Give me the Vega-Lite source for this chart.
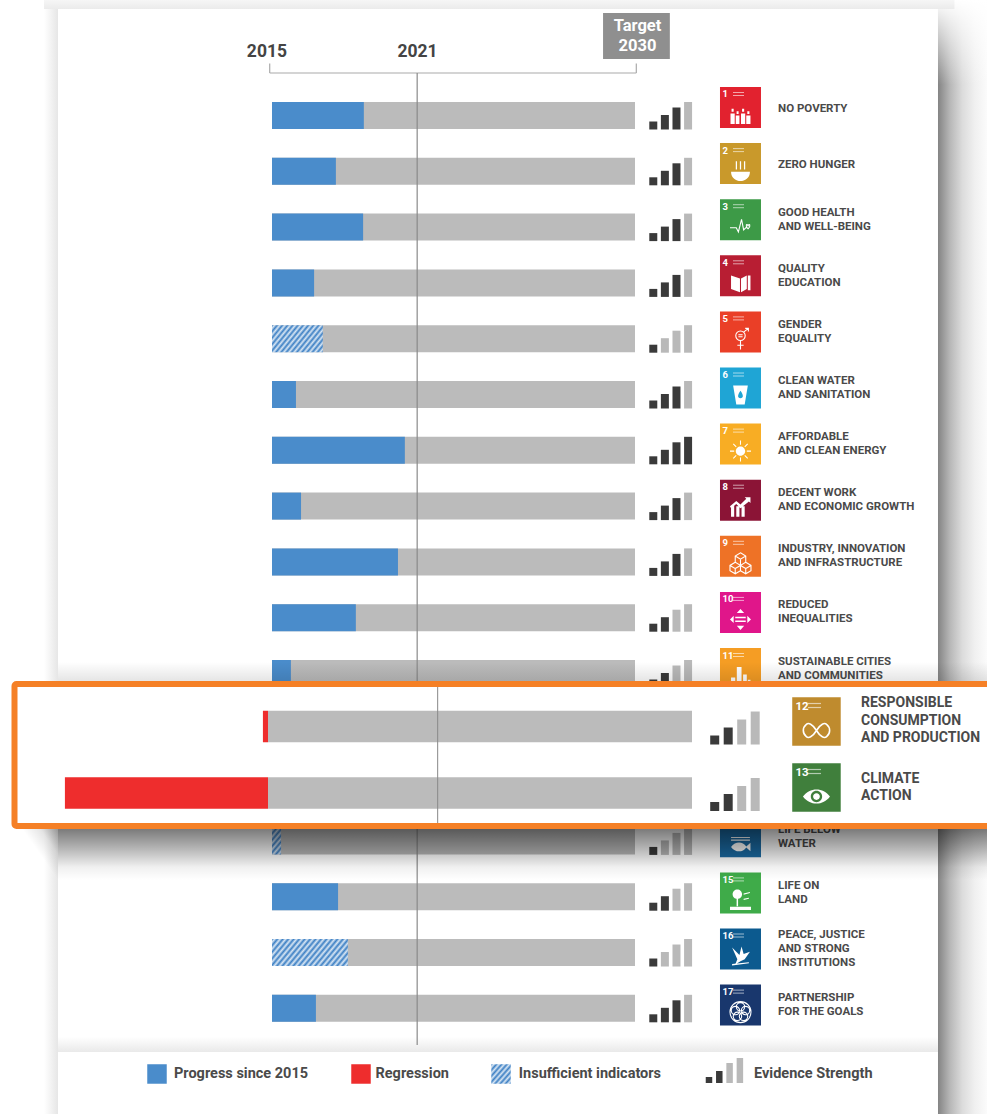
{
"$schema":"https://vega.github.io/schema/vega-lite/v6.json",
"width":987,"height":1114,"padding":0,"autosize":{"type":"none"},"background":"#ffffff",
"config":{"view":{"stroke":null},"axis":{"disable":true},"legend":{"disable":true}},
"resolve":{"scale":{"x":"independent","y":"independent","color":"independent"}},
"data":{"values":[{"part":"frame"}]},
"datasets":{
"goals":[
{"goal":1,"label":"NO POVERTY","progress":25.3,"status":"progress"},
{"goal":2,"label":"ZERO HUNGER","progress":17.6,"status":"progress"},
{"goal":3,"label":"GOOD HEALTH\nAND WELL-BEING","progress":25.1,"status":"progress"},
{"goal":4,"label":"QUALITY\nEDUCATION","progress":11.6,"status":"progress"},
{"goal":5,"label":"GENDER\nEQUALITY","progress":14,"status":"insufficient"},
{"goal":6,"label":"CLEAN WATER\nAND SANITATION","progress":6.6,"status":"progress"},
{"goal":7,"label":"AFFORDABLE\nAND CLEAN ENERGY","progress":36.6,"status":"progress"},
{"goal":8,"label":"DECENT WORK\nAND ECONOMIC GROWTH","progress":8,"status":"progress"},
{"goal":9,"label":"INDUSTRY, INNOVATION\nAND INFRASTRUCTURE","progress":34.7,"status":"progress"},
{"goal":10,"label":"REDUCED\nINEQUALITIES","progress":23.1,"status":"progress"},
{"goal":11,"label":"SUSTAINABLE CITIES\nAND COMMUNITIES","progress":5.2,"status":"progress"},
{"goal":12,"label":"RESPONSIBLE\nCONSUMPTION\nAND PRODUCTION","progress":-1.2,"status":"regression"},
{"goal":13,"label":"CLIMATE\nACTION","progress":-47.9,"status":"regression"},
{"goal":14,"label":"LIFE BELOW\nWATER","progress":2.5,"status":"insufficient"},
{"goal":15,"label":"LIFE ON\nLAND","progress":18.2,"status":"progress"},
{"goal":16,"label":"PEACE, JUSTICE\nAND STRONG\nINSTITUTIONS","progress":20.9,"status":"insufficient"},
{"goal":17,"label":"PARTNERSHIP\nFOR THE GOALS","progress":12.1,"status":"progress"}
],
"evidence":[
{"goal":1,"level":1,"state":"on"},{"goal":1,"level":2,"state":"on"},{"goal":1,"level":3,"state":"on"},{"goal":1,"level":4,"state":"off"},
{"goal":2,"level":1,"state":"on"},{"goal":2,"level":2,"state":"on"},{"goal":2,"level":3,"state":"on"},{"goal":2,"level":4,"state":"off"},
{"goal":3,"level":1,"state":"on"},{"goal":3,"level":2,"state":"on"},{"goal":3,"level":3,"state":"on"},{"goal":3,"level":4,"state":"off"},
{"goal":4,"level":1,"state":"on"},{"goal":4,"level":2,"state":"on"},{"goal":4,"level":3,"state":"on"},{"goal":4,"level":4,"state":"off"},
{"goal":5,"level":1,"state":"on"},{"goal":5,"level":2,"state":"off"},{"goal":5,"level":3,"state":"off"},{"goal":5,"level":4,"state":"off"},
{"goal":6,"level":1,"state":"on"},{"goal":6,"level":2,"state":"on"},{"goal":6,"level":3,"state":"on"},{"goal":6,"level":4,"state":"off"},
{"goal":7,"level":1,"state":"on"},{"goal":7,"level":2,"state":"on"},{"goal":7,"level":3,"state":"on"},{"goal":7,"level":4,"state":"on"},
{"goal":8,"level":1,"state":"on"},{"goal":8,"level":2,"state":"on"},{"goal":8,"level":3,"state":"on"},{"goal":8,"level":4,"state":"off"},
{"goal":9,"level":1,"state":"on"},{"goal":9,"level":2,"state":"on"},{"goal":9,"level":3,"state":"on"},{"goal":9,"level":4,"state":"off"},
{"goal":10,"level":1,"state":"on"},{"goal":10,"level":2,"state":"on"},{"goal":10,"level":3,"state":"off"},{"goal":10,"level":4,"state":"off"},
{"goal":11,"level":1,"state":"on"},{"goal":11,"level":2,"state":"on"},{"goal":11,"level":3,"state":"off"},{"goal":11,"level":4,"state":"off"},
{"goal":12,"level":1,"state":"on"},{"goal":12,"level":2,"state":"on"},{"goal":12,"level":3,"state":"off"},{"goal":12,"level":4,"state":"off"},
{"goal":13,"level":1,"state":"on"},{"goal":13,"level":2,"state":"on"},{"goal":13,"level":3,"state":"off"},{"goal":13,"level":4,"state":"off"},
{"goal":14,"level":1,"state":"on"},{"goal":14,"level":2,"state":"off"},{"goal":14,"level":3,"state":"off"},{"goal":14,"level":4,"state":"off"},
{"goal":15,"level":1,"state":"on"},{"goal":15,"level":2,"state":"on"},{"goal":15,"level":3,"state":"off"},{"goal":15,"level":4,"state":"off"},
{"goal":16,"level":1,"state":"on"},{"goal":16,"level":2,"state":"off"},{"goal":16,"level":3,"state":"off"},{"goal":16,"level":4,"state":"off"},
{"goal":17,"level":1,"state":"on"},{"goal":17,"level":2,"state":"on"},{"goal":17,"level":3,"state":"on"},{"goal":17,"level":4,"state":"off"}
],
"legendBars":[{"level":1,"state":"on"},{"level":2,"state":"on"},{"level":3,"state":"off"},{"level":4,"state":"off"}],
"header":[{"year":"2015","at":-1.4},{"year":"2021","at":40.1}]
},
"layer":[
{"layer":[
{"mark":{"type":"rect","color":{"gradient":"linear","x1":0,"y1":0,"x2":1,"y2":0,"stops":[{"offset":0,"color":"#848484"},{"offset":0.25,"color":"#b8b8b8"},{"offset":0.5,"color":"#dcdcdc"},{"offset":0.75,"color":"#f0f0f0"},{"offset":1,"color":"#fbfbfb"}]}},
 "encoding":{"x":{"datum":183.47,"type":"quantitative","scale":{"domain":[-74.93,196.97],"nice":false,"zero":false}},"x2":{"datum":196.97},"y":{"datum":-1.0699,"type":"quantitative","scale":{"domain":[-1.0699,18.894],"reverse":true,"nice":false,"zero":false,"padding":0}},"y2":{"datum":18.894}}},
{"mark":{"type":"rect","color":{"gradient":"linear","x1":0,"y1":0,"x2":0,"y2":1,"stops":[{"offset":0,"color":"rgba(255,255,255,1)"},{"offset":0.15,"color":"rgba(255,255,255,0.85)"},{"offset":1,"color":"rgba(255,255,255,0)"}]}},
 "encoding":{"x":{"datum":183.47,"type":"quantitative"},"x2":{"datum":196.97},"y":{"datum":-1.0699,"type":"quantitative"},"y2":{"datum":0.45}}},
{"mark":{"type":"rect","color":{"gradient":"linear","x1":0,"y1":0,"x2":0,"y2":1,"stops":[{"offset":0,"color":"#f6f6f6"},{"offset":1,"color":"#ebebeb"}]}},
 "encoding":{"x":{"datum":-62.8,"type":"quantitative"},"x2":{"datum":188},"y":{"datum":-1.0699,"type":"quantitative"},"y2":{"datum":-0.9086}}},
{"mark":{"type":"rect","color":{"gradient":"linear","x1":0,"y1":0,"x2":1,"y2":0,"stops":[{"offset":0,"color":"#ffffff"},{"offset":1,"color":"#e6e6e6"}]}},
 "encoding":{"x":{"datum":-62.8,"type":"quantitative"},"x2":{"datum":-58.95},"y":{"datum":-0.9086,"type":"quantitative"},"y2":{"datum":18.894}}},
{"mark":{"type":"rect","color":{"gradient":"linear","x1":0,"y1":0,"x2":0,"y2":1,"stops":[{"offset":0,"color":"#ffffff"},{"offset":1,"color":"#e9e9e9"}]}},
 "encoding":{"x":{"datum":-58.95,"type":"quantitative"},"x2":{"datum":183.47},"y":{"datum":17.514,"type":"quantitative"},"y2":{"datum":17.783}}},
{"mark":{"type":"rect","color":"#8f8f8f"},
 "encoding":{"x":{"datum":91.2,"type":"quantitative"},"x2":{"datum":109.6},"y":{"datum":-0.837,"type":"quantitative"},"y2":{"datum":-0.0125}}},
{"mark":{"type":"text","text":"Target\n2030","lineBreak":"\n","lineHeight":20,"align":"center","baseline":"middle","color":"#ffffff","font":"Roboto","fontWeight":"bold","fontSize":16.5},
 "encoding":{"x":{"datum":100.7,"type":"quantitative"},"y":{"datum":-0.604,"type":"quantitative"}}},
{"data":{"name":"header"},"mark":{"type":"text","align":"center","baseline":"middle","color":"#444444","font":"Roboto","fontWeight":"bold","fontSize":17.5},
 "encoding":{"x":{"field":"at","type":"quantitative"},"y":{"datum":-0.138,"type":"quantitative"},"text":{"field":"year"}}},
{"mark":{"type":"rule","color":"#aaaaaa","strokeWidth":1.2},"encoding":{"x":{"datum":-0.63,"type":"quantitative"},"x2":{"datum":100.36},"y":{"datum":0.238,"type":"quantitative"}}},
{"mark":{"type":"rule","color":"#aaaaaa","strokeWidth":1.2},"encoding":{"x":{"datum":-0.63,"type":"quantitative"},"y":{"datum":0.068,"type":"quantitative"},"y2":{"datum":0.238}}},
{"mark":{"type":"rule","color":"#aaaaaa","strokeWidth":1.2},"encoding":{"x":{"datum":100.36,"type":"quantitative"},"y":{"datum":0.068,"type":"quantitative"},"y2":{"datum":0.238}}},
{"data":{"name":"goals"},"mark":{"type":"bar","orient":"horizontal","size":27,"color":"#bbbbbb"},
 "encoding":{"x":{"datum":0,"type":"quantitative"},"x2":{"datum":100},"y":{"field":"goal","type":"quantitative"}}},
{"data":{"name":"goals"},"transform":[{"filter":"datum.status !== 'insufficient'"}],"mark":{"type":"bar","orient":"horizontal","size":27},
 "encoding":{"x":{"field":"progress","type":"quantitative"},"x2":{"datum":0},"y":{"field":"goal","type":"quantitative"},"color":{"field":"status","type":"nominal","scale":{"domain":["progress","regression"],"range":["#4a8ccb","#ee2d2d"]}}}},
{"data":{"name":"goals"},"transform":[{"filter":"datum.goal === 5"}],"mark":{"type":"bar","orient":"horizontal","size":27,"color":{"gradient":"linear","x1":0,"y1":0,"x2":1.207,"y2":0.522,"stops":[{"offset":0,"color":"#3d80c4"},{"offset":0.0357,"color":"#d8e6f4"},{"offset":0.0714,"color":"#3d80c4"},{"offset":0.1071,"color":"#d8e6f4"},{"offset":0.1429,"color":"#3d80c4"},{"offset":0.1786,"color":"#d8e6f4"},{"offset":0.2143,"color":"#3d80c4"},{"offset":0.25,"color":"#d8e6f4"},{"offset":0.2857,"color":"#3d80c4"},{"offset":0.3214,"color":"#d8e6f4"},{"offset":0.3571,"color":"#3d80c4"},{"offset":0.3929,"color":"#d8e6f4"},{"offset":0.4286,"color":"#3d80c4"},{"offset":0.4643,"color":"#d8e6f4"},{"offset":0.5,"color":"#3d80c4"},{"offset":0.5357,"color":"#d8e6f4"},{"offset":0.5714,"color":"#3d80c4"},{"offset":0.6071,"color":"#d8e6f4"},{"offset":0.6429,"color":"#3d80c4"},{"offset":0.6786,"color":"#d8e6f4"},{"offset":0.7143,"color":"#3d80c4"},{"offset":0.75,"color":"#d8e6f4"},{"offset":0.7857,"color":"#3d80c4"},{"offset":0.8214,"color":"#d8e6f4"},{"offset":0.8571,"color":"#3d80c4"},{"offset":0.8929,"color":"#d8e6f4"},{"offset":0.9286,"color":"#3d80c4"},{"offset":0.9643,"color":"#d8e6f4"},{"offset":1,"color":"#3d80c4"}]}},
 "encoding":{"x":{"field":"progress","type":"quantitative"},"x2":{"datum":0},"y":{"field":"goal","type":"quantitative"}}},
{"data":{"name":"goals"},"transform":[{"filter":"datum.goal === 16"}],"mark":{"type":"bar","orient":"horizontal","size":27,"color":{"gradient":"linear","x1":0,"y1":0,"x2":1.192,"y2":0.3527,"stops":[{"offset":0,"color":"#3d80c4"},{"offset":0.0278,"color":"#d8e6f4"},{"offset":0.0556,"color":"#3d80c4"},{"offset":0.0833,"color":"#d8e6f4"},{"offset":0.1111,"color":"#3d80c4"},{"offset":0.1389,"color":"#d8e6f4"},{"offset":0.1667,"color":"#3d80c4"},{"offset":0.1944,"color":"#d8e6f4"},{"offset":0.2222,"color":"#3d80c4"},{"offset":0.25,"color":"#d8e6f4"},{"offset":0.2778,"color":"#3d80c4"},{"offset":0.3056,"color":"#d8e6f4"},{"offset":0.3333,"color":"#3d80c4"},{"offset":0.3611,"color":"#d8e6f4"},{"offset":0.3889,"color":"#3d80c4"},{"offset":0.4167,"color":"#d8e6f4"},{"offset":0.4444,"color":"#3d80c4"},{"offset":0.4722,"color":"#d8e6f4"},{"offset":0.5,"color":"#3d80c4"},{"offset":0.5278,"color":"#d8e6f4"},{"offset":0.5556,"color":"#3d80c4"},{"offset":0.5833,"color":"#d8e6f4"},{"offset":0.6111,"color":"#3d80c4"},{"offset":0.6389,"color":"#d8e6f4"},{"offset":0.6667,"color":"#3d80c4"},{"offset":0.6944,"color":"#d8e6f4"},{"offset":0.7222,"color":"#3d80c4"},{"offset":0.75,"color":"#d8e6f4"},{"offset":0.7778,"color":"#3d80c4"},{"offset":0.8056,"color":"#d8e6f4"},{"offset":0.8333,"color":"#3d80c4"},{"offset":0.8611,"color":"#d8e6f4"},{"offset":0.8889,"color":"#3d80c4"},{"offset":0.9167,"color":"#d8e6f4"},{"offset":0.9444,"color":"#3d80c4"},{"offset":0.9722,"color":"#d8e6f4"},{"offset":1,"color":"#3d80c4"}]}},
 "encoding":{"x":{"field":"progress","type":"quantitative"},"x2":{"datum":0},"y":{"field":"goal","type":"quantitative"}}},
{"data":{"name":"goals"},"transform":[{"filter":"datum.goal === 14"}],"mark":{"type":"bar","orient":"horizontal","size":27,"color":{"gradient":"linear","x1":0,"y1":0,"x2":0.483,"y2":1.207,"stops":[{"offset":0,"color":"#3d80c4"},{"offset":0.0833,"color":"#d8e6f4"},{"offset":0.1667,"color":"#3d80c4"},{"offset":0.25,"color":"#d8e6f4"},{"offset":0.3333,"color":"#3d80c4"},{"offset":0.4167,"color":"#d8e6f4"},{"offset":0.5,"color":"#3d80c4"},{"offset":0.5833,"color":"#d8e6f4"},{"offset":0.6667,"color":"#3d80c4"},{"offset":0.75,"color":"#d8e6f4"},{"offset":0.8333,"color":"#3d80c4"},{"offset":0.9167,"color":"#d8e6f4"},{"offset":1,"color":"#3d80c4"}]}},
 "encoding":{"x":{"field":"progress","type":"quantitative"},"x2":{"datum":0},"y":{"field":"goal","type":"quantitative"}}},
{"mark":{"type":"rule","color":"#8a8a8a","strokeWidth":1.4,"opacity":0.85},"encoding":{"x":{"datum":40,"type":"quantitative"},"y":{"datum":0.238,"type":"quantitative"},"y2":{"datum":17.658}}}
]},
{"data":{"name":"evidence"},"encoding":{
 "color":{"field":"state","type":"nominal","scale":{"domain":["on","off"],"range":["#3a3a3a","#b9b9b9"]}}},
"layer":[
{"transform":[{"filter":"datum.level === 1"}],"mark":{"type":"tick","orient":"vertical","thickness":8,"opacity":1,"size":8,"yOffset":10},
 "encoding":{"x":{"field":"level","type":"quantitative","scale":{"domain":[-55.32,29.77],"nice":false,"zero":false}},
 "y":{"field":"goal","type":"quantitative","scale":{"domain":[-1.0699,18.894],"reverse":true,"nice":false,"zero":false,"padding":0}}}},
{"transform":[{"filter":"datum.level === 2"}],"mark":{"type":"tick","orient":"vertical","thickness":8,"opacity":1,"size":14.5,"yOffset":6.75},
 "encoding":{"x":{"field":"level","type":"quantitative"},"y":{"field":"goal","type":"quantitative"}}},
{"transform":[{"filter":"datum.level === 3"}],"mark":{"type":"tick","orient":"vertical","thickness":8,"opacity":1,"size":22,"yOffset":3},
 "encoding":{"x":{"field":"level","type":"quantitative"},"y":{"field":"goal","type":"quantitative"}}},
{"transform":[{"filter":"datum.level === 4"}],"mark":{"type":"tick","orient":"vertical","thickness":8,"opacity":1,"size":27.5,"yOffset":0.25},
 "encoding":{"x":{"field":"level","type":"quantitative"},"y":{"field":"goal","type":"quantitative"}}}
]},
{"data":{"name":"goals"},"layer":[
{"mark":{"type":"point","shape":"square","filled":true,"size":1681,"opacity":1},
 "encoding":{"x":{"datum":129.06,"type":"quantitative","scale":{"domain":[-74.93,196.97],"nice":false,"zero":false}},"y":{"field":"goal","type":"quantitative","scale":{"domain":[-0.9162,18.941],"reverse":true,"nice":false,"zero":false,"padding":0}},
 "color":{"field":"goal","type":"nominal","scale":{"domain":[1,2,3,4,5,6,7,8,9,10,11,12,13,14,15,16,17],"range":["#e2222f","#c9992b","#3d9a47","#b81e33","#ea3f27","#1fa5d5","#f8ad24","#8b1436","#ee7226","#e0168a","#f59d24","#bf8b2e","#407f3c","#1a6aa3","#3fab49","#0c5a8f","#19376d"]}}}},
{"mark":{"type":"text","align":"left","baseline":"middle","dx":-18,"dy":-13,"color":"#ffffff","font":"Roboto","fontWeight":"bold","fontSize":9.5},
 "encoding":{"x":{"datum":129.06,"type":"quantitative"},"y":{"field":"goal","type":"quantitative"},"text":{"field":"goal","type":"nominal"}}},
{"mark":{"type":"tick","orient":"horizontal","size":11,"thickness":1,"color":"#ffffff","opacity":0.6,"xOffset":-2,"yOffset":-15},
 "encoding":{"x":{"datum":129.06,"type":"quantitative"},"y":{"field":"goal","type":"quantitative"}}},
{"mark":{"type":"tick","orient":"horizontal","size":11,"thickness":1,"color":"#ffffff","opacity":0.6,"xOffset":-2,"yOffset":-12},
 "encoding":{"x":{"datum":129.06,"type":"quantitative"},"y":{"field":"goal","type":"quantitative"}}},
{"transform":[{"filter":{"field":"goal","oneOf":[1,2,4,6,7,8,10,11,13,14,15,16]}}],"mark":{"type":"point","filled":true,"color":"#ffffff","size":441,"opacity":1,"strokeWidth":0,"yOffset":7},
 "encoding":{"x":{"datum":129.06,"type":"quantitative"},"y":{"field":"goal","type":"quantitative"},
 "shape":{"field":"goal","type":"nominal","scale":{"domain":[1,2,3,4,5,6,7,8,9,10,11,12,13,14,15,16,17],"range":[
 "M-.95 .9V-.1H-.55V.9ZM-.85 -.55H-.65V-.25H-.85ZM-.45 .9V.1H-.1V.9ZM-.37 -.3H-.18V-.05H-.37ZM.05 .9V-.1H.45V.9ZM.15 -.55H.35V-.25H.15ZM.55 .9V.1H.95V.9ZM.65 -.3H.85V-.05H.65Z",
 "M-.9 .1H.9C.9 .7 .4 1 0 1S-.9 .7 -.9 .1ZM-.45 -.9h.12v.8h-.12ZM-.06 -.9h.12v.8h-.12ZM.33 -.9h.12v.8h-.12Z",
 "M-1 .1H-.4L-.2 .5 .1 -.7 .3 .3 .5 .1H.65M.72 -.1C.6 -.35 .4 -.1 .72 .2 1.04 -.1 .84 -.35 .72 -.1Z",
 "M-.9 -.7L-.05 -.4V.9L-.9 .6ZM.05 -.4L.6 -.7V.6L.05 .9ZM.7 -.7H.95V.7H.7Z",
 "M.45 -.3A.45 .45 0 1 1 -.45 -.3A.45 .45 0 1 1 .45 -.3ZM0 .15V1M-.3 .6H.3M.3 -.65L.75 -1M.45 -1H.75V-.7M-.2 -.4H.2M-.2 -.2H.2",
 "M-.7 -.9H.7L.4 .9H-.4ZM0 -.4C-.3 0 -.3 .3 0 .3C.3 .3 .3 0 0 -.4Z",
 "M0 -.45A.45 .45 0 1 1 0 .45A.45 .45 0 1 1 0 -.45ZM-.05 -1h.1v.4h-.1ZM-.05 .6h.1v.4h-.1ZM-1 -.05h.4v.1h-.4ZM.6 -.05h.4v.1h-.4ZM-.72 -.65l.07 -.07 .28 .28 -.07 .07ZM.65 -.72l.07 .07 -.28 .28 -.07 -.07ZM-.65 .72l-.07 -.07 .28 -.28 .07 .07ZM.72 .65l-.07 .07 -.28 -.28 .07 -.07Z",
 "M-.9 .9V.1L-.6 -.15V.9ZM-.4 .9V-.1H-.1V.9ZM.1 .9V-.1H.4V.9ZM-1 -.1L-.4 -.6 0 -.25 .55 -.8 .4 -.95H.95V-.4L.8 -.55 0 .1 -.4 -.3 -.9 .1Z",
 "M0 -1L.5 -.7V-.1L0 .2 -.5 -.1V-.7ZM0 -.4V.2M-.5 -.7L0 -.4 .5 -.7M-.5 -.1L-1 .2V.7L-.5 1 0 .7V.2M-1 .2L-.5 .5V1M-.5 .5L0 .2M0 .7L.5 1 1 .7V.2L.5 -.1M.5 1V.5L1 .2M.5 .5L0 .2",
 "M-.5 -.25h1v.15h-1ZM-.5 .1h1v.15h-1ZM0 -1L.35 -.6H-.35ZM0 1L-.35 .6H.35ZM-1 0L-.65 .35V-.35ZM1 0L.65 -.35V.35Z",
 "M-.9 .9V.2H-.5V.9ZM-.35 .9V-.8H.1V.9ZM.25 .9V-.1H.6V.9ZM.7 .9V.4H.95V.9Z",
 "M0 0C-.3 -.5 -.6 -.6 -.75 -.45 -1.05 -.2 -1.05 .2 -.75 .45 -.6 .6 -.3 .5 0 0C.3 -.5 .6 -.6 .75 -.45 1.05 -.2 1.05 .2 .75 .45 .6 .6 .3 .5 0 0Z",
 "M-1 0C-.5 -.7 .5 -.7 1 0C.5 .7 -.5 .7 -1 0ZM0 -.42A.42 .42 0 1 0 0 .42A.42 .42 0 1 0 0 -.42ZM0 -.25A.25 .25 0 1 1 0 .25A.25 .25 0 1 1 0 -.25Z",
 "M-.9 .3C-.5 -.25 .2 -.25 .55 .25L.95 -.1V.7L.55 .35C.2 .85 -.5 .85 -.9 .3ZM-.9 -.65h1.8v.1h-1.8ZM-.9 -.4h1.8v.1h-1.8Z",
 "M-.3 -1A.45 .45 0 1 1 -.3 -.1A.45 .45 0 1 1 -.3 -1ZM-.37 -.2h.14v.8h-.14ZM-1 .65H1V.95H-1ZM.3 -.6l.6 -.15v.1l-.6 .15ZM.3 -.1l.5 -.1v.1l-.5 .1Z",
 "M-.8 -.8L-.1 -.1 .1 -.9 .3 -.2 .9 -.4 .4 .3 0 .5 -.5 .8 -.3 .3ZM-.8 .75L.8 .6V.7L-.8 .9Z",
 "M0 -1A1 1 0 1 1 0 1A1 1 0 1 1 0 -1ZM0 -.9A.4 .4 0 1 1 0 -.1A.4 .4 0 1 1 0 -.9ZM.48 -.55A.4 .4 0 1 1 .48 .25A.4 .4 0 1 1 .48 -.55ZM.29 0A.4 .4 0 1 1 .29 .8A.4 .4 0 1 1 .29 0ZM-.29 0A.4 .4 0 1 1 -.29 .8A.4 .4 0 1 1 -.29 0ZM-.48 -.55A.4 .4 0 1 1 -.48 .25A.4 .4 0 1 1 -.48 -.55Z"
 ]}}}},
{"transform":[{"filter":{"field":"goal","oneOf":[3,5,9,12,17]}}],"mark":{"type":"point","filled":false,"color":"#ffffff","size":441,"opacity":1,"strokeWidth":1.1,"yOffset":7},
 "encoding":{"x":{"datum":129.06,"type":"quantitative"},"y":{"field":"goal","type":"quantitative"},"shape":{"field":"goal","type":"nominal"}}},
{"transform":[{"filter":{"field":"goal","oneOf":[1,2]}}],"mark":{"type":"text","align":"left","baseline":"middle","dy":1.5,"color":"#4a4a4a","font":"Roboto","fontWeight":"bold","fontSize":11.5},
 "encoding":{"x":{"datum":139.4,"type":"quantitative"},"y":{"field":"goal","type":"quantitative"},"text":{"field":"label"}}},
{"transform":[{"filter":{"field":"goal","oneOf":[3,4,5,6,7,8,9,10,11,14,15,17]}}],"mark":{"type":"text","align":"left","baseline":"middle","lineBreak":"\n","lineHeight":14,"dy":-7,"color":"#4a4a4a","font":"Roboto","fontWeight":"bold","fontSize":11.5},
 "encoding":{"x":{"datum":139.4,"type":"quantitative"},"y":{"field":"goal","type":"quantitative"},"text":{"field":"label"}}},
{"transform":[{"filter":"datum.goal === 16"}],"mark":{"type":"text","align":"left","baseline":"middle","lineBreak":"\n","lineHeight":14,"dy":-14,"color":"#4a4a4a","font":"Roboto","fontWeight":"bold","fontSize":11.5},
 "encoding":{"x":{"datum":139.4,"type":"quantitative"},"y":{"field":"goal","type":"quantitative"},"text":{"field":"label"}}}
]},
{"layer":[
{"mark":{"type":"rect","color":{"gradient":"linear","x1":0,"y1":0,"x2":0,"y2":1,"stops":[{"offset":0,"color":"rgba(0,0,0,0.52)"},{"offset":0.4,"color":"rgba(0,0,0,0.28)"},{"offset":0.75,"color":"rgba(0,0,0,0.06)"},{"offset":1,"color":"rgba(0,0,0,0)"}]}},
 "encoding":{"x":{"datum":-58.95,"type":"quantitative","scale":{"domain":[-74.93,196.97],"nice":false,"zero":false}},"x2":{"datum":196.97},"y":{"datum":13.787,"type":"quantitative","scale":{"domain":[-1.0699,18.894],"reverse":true,"nice":false,"zero":false,"padding":0}},"y2":{"datum":14.7}}},
{"mark":{"type":"rect","color":{"gradient":"linear","x1":1,"y1":0,"x2":0,"y2":1,"stops":[{"offset":0,"color":"rgba(0,0,0,0.35)"},{"offset":0.25,"color":"rgba(0,0,0,0.1)"},{"offset":0.5,"color":"rgba(0,0,0,0)"},{"offset":1,"color":"rgba(0,0,0,0)"}]}},
 "encoding":{"x":{"datum":-68.87,"type":"quantitative"},"x2":{"datum":-58.95},"y":{"datum":13.787,"type":"quantitative"},"y2":{"datum":14.7}}},
{"mark":{"type":"rect","color":{"gradient":"linear","x1":0,"y1":0,"x2":0,"y2":1,"stops":[{"offset":0,"color":"rgba(0,0,0,0)"},{"offset":1,"color":"rgba(0,0,0,0.1)"}]}},
 "encoding":{"x":{"datum":-58.95,"type":"quantitative"},"x2":{"datum":196.97},"y":{"datum":10.794,"type":"quantitative"},"y2":{"datum":11.134}}}
]},
{"layer":[
{"mark":{"type":"rect","fill":"#ffffff","stroke":"#f58026","strokeWidth":6,"cornerRadius":2},
 "encoding":{"x":{"datum":-59.79,"type":"quantitative","scale":{"domain":[-63.21,169.58],"nice":false,"zero":false}},"x2":{"datum":171.46},"y":{"datum":11.361,"type":"quantitative","scale":{"domain":[1.075,17.827],"reverse":true,"nice":false,"zero":false,"padding":0}},"y2":{"datum":13.496}}},
{"data":{"name":"goals"},"transform":[{"filter":{"field":"goal","oneOf":[12,13]}}],"mark":{"type":"bar","orient":"horizontal","size":31.5,"color":"#bbbbbb"},
 "encoding":{"x":{"datum":0,"type":"quantitative"},"x2":{"datum":100},"y":{"field":"goal","type":"quantitative"}}},
{"data":{"name":"goals"},"transform":[{"filter":{"field":"goal","oneOf":[12,13]}}],"mark":{"type":"bar","orient":"horizontal","size":31.5,"color":"#ee2d2d"},
 "encoding":{"x":{"field":"progress","type":"quantitative"},"x2":{"datum":0},"y":{"field":"goal","type":"quantitative"}}},
{"mark":{"type":"rule","color":"#8a8a8a","strokeWidth":1.2,"opacity":0.85},"encoding":{"x":{"datum":40,"type":"quantitative"},"y":{"datum":11.406,"type":"quantitative"},"y2":{"datum":13.451}}}
]},
{"data":{"name":"evidence"},"transform":[{"filter":{"field":"goal","oneOf":[12,13]}}],"encoding":{
 "color":{"field":"state","type":"nominal","scale":{"domain":["on","off"],"range":["#3a3a3a","#b9b9b9"]}}},
"layer":[
{"transform":[{"filter":"datum.level === 1"}],"mark":{"type":"tick","orient":"vertical","thickness":9,"opacity":1,"size":9,"yOffset":13.5},
 "encoding":{"x":{"field":"level","type":"quantitative","scale":{"domain":[-51.94,21.17],"nice":false,"zero":false}},
 "y":{"field":"goal","type":"quantitative","scale":{"domain":[1.075,17.827],"reverse":true,"nice":false,"zero":false,"padding":0}}}},
{"transform":[{"filter":"datum.level === 2"}],"mark":{"type":"tick","orient":"vertical","thickness":9,"opacity":1,"size":17,"yOffset":9.5},
 "encoding":{"x":{"field":"level","type":"quantitative"},"y":{"field":"goal","type":"quantitative"}}},
{"transform":[{"filter":"datum.level === 3"}],"mark":{"type":"tick","orient":"vertical","thickness":9,"opacity":1,"size":25,"yOffset":5.5},
 "encoding":{"x":{"field":"level","type":"quantitative"},"y":{"field":"goal","type":"quantitative"}}},
{"transform":[{"filter":"datum.level === 4"}],"mark":{"type":"tick","orient":"vertical","thickness":9,"opacity":1,"size":33,"yOffset":1.5},
 "encoding":{"x":{"field":"level","type":"quantitative"},"y":{"field":"goal","type":"quantitative"}}}
]},
{"data":{"name":"goals"},"transform":[{"filter":{"field":"goal","oneOf":[12,13]}}],"layer":[
{"mark":{"type":"point","shape":"square","filled":true,"size":2352,"opacity":1},
 "encoding":{"x":{"datum":129.36,"type":"quantitative","scale":{"domain":[-63.21,169.58],"nice":false,"zero":false}},"y":{"field":"goal","type":"quantitative","scale":{"domain":[1.068,17.947],"reverse":true,"nice":false,"zero":false,"padding":0}},
 "color":{"field":"goal","type":"nominal","scale":{"domain":[12,13],"range":["#bf8b2e","#407f3c"]}}}},
{"mark":{"type":"text","align":"left","baseline":"middle","dx":-21,"dy":-15,"color":"#ffffff","font":"Roboto","fontWeight":"bold","fontSize":11.5},
 "encoding":{"x":{"datum":129.36,"type":"quantitative"},"y":{"field":"goal","type":"quantitative"},"text":{"field":"goal","type":"nominal"}}},
{"mark":{"type":"tick","orient":"horizontal","size":13,"thickness":1.2,"color":"#ffffff","opacity":0.6,"xOffset":-2,"yOffset":-18},
 "encoding":{"x":{"datum":129.36,"type":"quantitative"},"y":{"field":"goal","type":"quantitative"}}},
{"mark":{"type":"tick","orient":"horizontal","size":13,"thickness":1.2,"color":"#ffffff","opacity":0.6,"xOffset":-2,"yOffset":-14},
 "encoding":{"x":{"datum":129.36,"type":"quantitative"},"y":{"field":"goal","type":"quantitative"}}},
{"transform":[{"filter":"datum.goal === 13"}],"mark":{"type":"point","filled":true,"color":"#ffffff","size":729,"opacity":1,"strokeWidth":0,"yOffset":9},
 "encoding":{"x":{"datum":129.36,"type":"quantitative"},"y":{"field":"goal","type":"quantitative"},"shape":{"field":"goal","type":"nominal"}}},
{"transform":[{"filter":"datum.goal === 12"}],"mark":{"type":"point","filled":false,"color":"#ffffff","size":729,"opacity":1,"strokeWidth":1.6,"yOffset":9},
 "encoding":{"x":{"datum":129.36,"type":"quantitative"},"y":{"field":"goal","type":"quantitative"},"shape":{"field":"goal","type":"nominal"}}},
{"transform":[{"filter":"datum.goal === 12"}],"mark":{"type":"text","align":"left","baseline":"middle","lineBreak":"\n","lineHeight":17.5,"dy":-18.5,"color":"#4a4a4a","font":"Roboto","fontWeight":"bold","fontSize":14},
 "encoding":{"x":{"datum":139.86,"type":"quantitative"},"y":{"field":"goal","type":"quantitative"},"text":{"field":"label"}}},
{"transform":[{"filter":"datum.goal === 13"}],"mark":{"type":"text","align":"left","baseline":"middle","lineBreak":"\n","lineHeight":17.5,"dy":-9,"color":"#4a4a4a","font":"Roboto","fontWeight":"bold","fontSize":14},
 "encoding":{"x":{"datum":139.86,"type":"quantitative"},"y":{"field":"goal","type":"quantitative"},"text":{"field":"label"}}}
]},
{"layer":[
{"mark":{"type":"point","shape":"square","filled":true,"size":380,"opacity":1,"color":"#4a8ccb"},"encoding":{"x":{"datum":-31.68,"type":"quantitative","scale":{"domain":[-74.93,196.97],"nice":false,"zero":false}},"y":{"datum":18.177,"type":"quantitative","scale":{"domain":[-1.0699,18.894],"reverse":true,"nice":false,"zero":false,"padding":0}}}},
{"mark":{"type":"point","shape":"square","filled":true,"size":380,"opacity":1,"color":"#ee2d2d"},"encoding":{"x":{"datum":24.52,"type":"quantitative"},"y":{"datum":18.177,"type":"quantitative"}}},
{"mark":{"type":"point","shape":"square","filled":true,"size":380,"opacity":1,"strokeWidth":0,"color":{"gradient":"linear","x1":0,"y1":0,"x2":1.06,"y2":0.93,"stops":[{"offset":0,"color":"#3d80c4"},{"offset":0.0714,"color":"#d8e6f4"},{"offset":0.1429,"color":"#3d80c4"},{"offset":0.2143,"color":"#d8e6f4"},{"offset":0.2857,"color":"#3d80c4"},{"offset":0.3571,"color":"#d8e6f4"},{"offset":0.4286,"color":"#3d80c4"},{"offset":0.5,"color":"#d8e6f4"},{"offset":0.5714,"color":"#3d80c4"},{"offset":0.6429,"color":"#d8e6f4"},{"offset":0.7143,"color":"#3d80c4"},{"offset":0.7857,"color":"#d8e6f4"},{"offset":0.8571,"color":"#3d80c4"},{"offset":0.9286,"color":"#d8e6f4"},{"offset":1,"color":"#3d80c4"}]}},"encoding":{"x":{"datum":63.09,"type":"quantitative"},"y":{"datum":18.177,"type":"quantitative"}}},
{"mark":{"type":"text","text":"Progress since 2015","align":"left","baseline":"middle","color":"#4a4a4a","font":"Roboto","fontWeight":"bold","fontSize":14.5},"encoding":{"x":{"datum":-27,"type":"quantitative"},"y":{"datum":18.177,"type":"quantitative"}}},
{"mark":{"type":"text","text":"Regression","align":"left","baseline":"middle","color":"#4a4a4a","font":"Roboto","fontWeight":"bold","fontSize":14.5},"encoding":{"x":{"datum":28.51,"type":"quantitative"},"y":{"datum":18.177,"type":"quantitative"}}},
{"mark":{"type":"text","text":"Insufficient indicators","align":"left","baseline":"middle","color":"#4a4a4a","font":"Roboto","fontWeight":"bold","fontSize":14.5},"encoding":{"x":{"datum":68,"type":"quantitative"},"y":{"datum":18.177,"type":"quantitative"}}},
{"mark":{"type":"text","text":"Evidence Strength","align":"left","baseline":"middle","color":"#4a4a4a","font":"Roboto","fontWeight":"bold","fontSize":14.5},"encoding":{"x":{"datum":132.78,"type":"quantitative"},"y":{"datum":18.177,"type":"quantitative"}}}
]},
{"data":{"name":"legendBars"},"encoding":{
 "color":{"field":"state","type":"nominal","scale":{"domain":["on","off"],"range":["#3a3a3a","#b9b9b9"]}}},
"layer":[
{"transform":[{"filter":"datum.level === 1"}],"mark":{"type":"tick","orient":"vertical","thickness":6.5,"opacity":1,"size":6,"yOffset":6},
 "encoding":{"x":{"field":"level","type":"quantitative","scale":{"domain":[-67.83,27.99],"nice":false,"zero":false}},
 "y":{"datum":18.177,"type":"quantitative","scale":{"domain":[-1.0699,18.894],"reverse":true,"nice":false,"zero":false,"padding":0}}}},
{"transform":[{"filter":"datum.level === 2"}],"mark":{"type":"tick","orient":"vertical","thickness":6.5,"opacity":1,"size":12,"yOffset":3},
 "encoding":{"x":{"field":"level","type":"quantitative"},"y":{"datum":18.177,"type":"quantitative"}}},
{"transform":[{"filter":"datum.level === 3"}],"mark":{"type":"tick","orient":"vertical","thickness":6.5,"opacity":1,"size":20,"yOffset":-1},
 "encoding":{"x":{"field":"level","type":"quantitative"},"y":{"datum":18.177,"type":"quantitative"}}},
{"transform":[{"filter":"datum.level === 4"}],"mark":{"type":"tick","orient":"vertical","thickness":6.5,"opacity":1,"size":25,"yOffset":-3.5},
 "encoding":{"x":{"field":"level","type":"quantitative"},"y":{"datum":18.177,"type":"quantitative"}}}
]}
]
}
